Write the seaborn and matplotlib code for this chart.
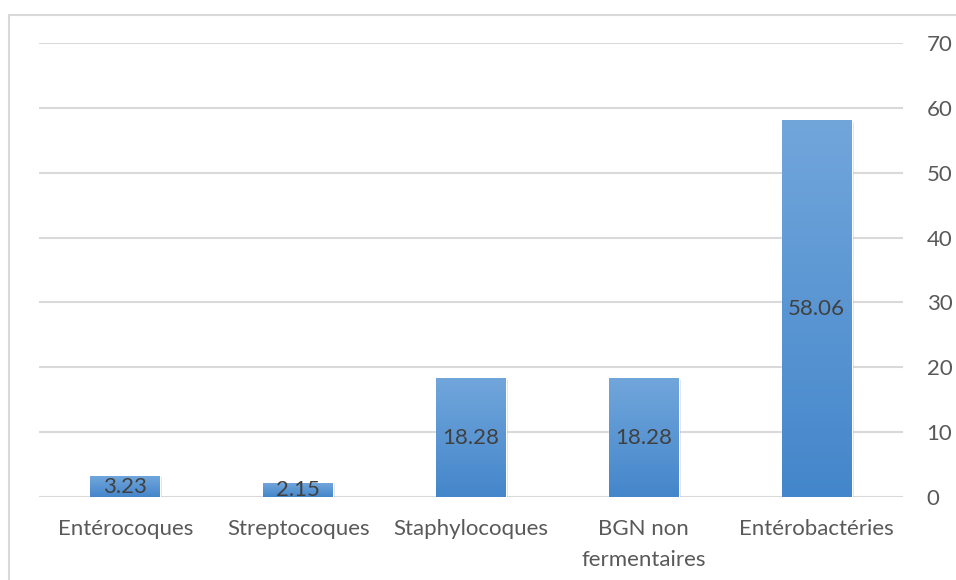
import numpy as np
import pandas as pd
import matplotlib
matplotlib.use("Agg")
import matplotlib.pyplot as plt
import matplotlib.patheffects as pe
from matplotlib.colors import LinearSegmentedColormap
from matplotlib.patches import Rectangle
import seaborn as sns

categories = ["Entérocoques", "Streptocoques", "Staphylocoques",
              "BGN non\nfermentaires", "Entérobactéries"]
values = [3.23, 2.15, 18.28, 18.28, 58.06]
value_labels = ["3.23", "2.15", "18.28", "18.28", "58.06"]
y_ticks = [0, 10, 20, 30, 40, 50, 60, 70]

sns.set_theme(style="white")
plt.rcParams["font.family"] = ["Lato", "DejaVu Sans"]

df = pd.DataFrame({"cat": categories, "val": values})

fig = plt.figure(figsize=(9.56, 5.80), dpi=100)
ax = fig.add_axes([39 / 956, 1 - 497 / 580, (903 - 39) / 956, (497 - 43) / 580])

sns.barplot(data=df, x="cat", y="val", color="#5b9bd5", width=0.405,
            saturation=1, ax=ax, zorder=3)

# vertical gradient fill inside each bar
grad = LinearSegmentedColormap.from_list("bar", ["#4486cb", "#71a6db"])
gimg = np.linspace(0, 1, 256).reshape(-1, 1)
for p in ax.patches:
    x0, y0 = p.get_x(), p.get_y()
    w, h = p.get_width(), p.get_height()
    p.set_path_effects([pe.SimplePatchShadow(offset=(1.5, -1), alpha=0.25,
                                             shadow_rgbFace="#808080"),
                        pe.Normal()])
    im = ax.imshow(gimg, cmap=grad, origin="lower", aspect="auto",
                   extent=(x0, x0 + w, y0, y0 + h), zorder=4)
    im.set_clip_path(p)

for i, (v, lab) in enumerate(zip(values, value_labels)):
    ax.text(i, v / 2, lab, ha="center", va="center", fontsize=16,
            color="#404040", zorder=5)

ax.set_xlim(-0.5, len(categories) - 0.5)
ax.set_ylim(0, 70)
ax.set_yticks(y_ticks)
ax.yaxis.tick_right()
ax.grid(axis="y", color="#d9d9d9", linewidth=1.5, zorder=0)
ax.set_axisbelow(True)
for s in ax.spines.values():
    s.set_visible(False)
ax.set_xlabel("")
ax.set_ylabel("")
ax.tick_params(axis="y", length=0, pad=17, labelsize=16, labelcolor="#595959")
ax.tick_params(axis="x", length=0, pad=16, labelsize=16, labelcolor="#595959")
for t in ax.get_xticklabels():
    t.set_multialignment("center")
    t.set_linespacing(1.65)

# outer chart frame
fig.patches.append(Rectangle((9 / 956, -0.1), 1.2, 1 - 15 / 580 + 0.1,
                             transform=fig.transFigure, fill=False,
                             edgecolor="#d9d9d9", linewidth=1.5))

fig.savefig("out.png", dpi=100, facecolor="white")
